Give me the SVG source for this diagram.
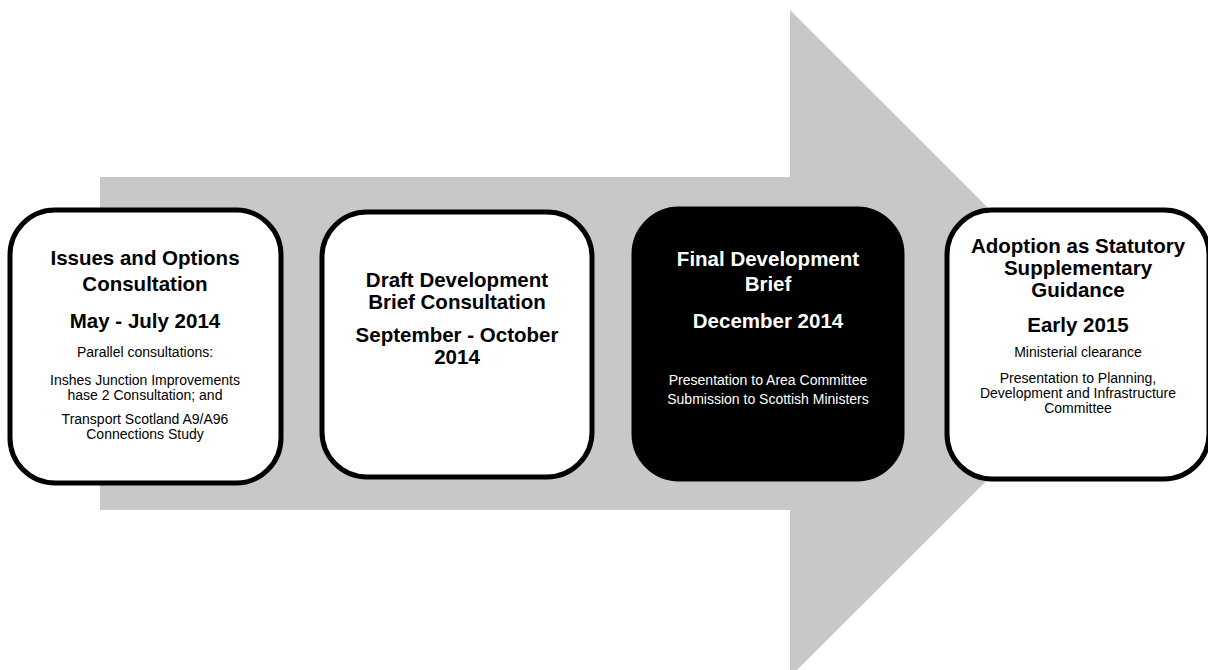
<svg xmlns="http://www.w3.org/2000/svg" width="1208" height="670" viewBox="0 0 1208 670">
<style>
.box{fill:#ffffff;stroke:#000000;stroke-width:5}
.dark{fill:#000000;stroke:#000000;stroke-width:5}
.t{font-family:"Liberation Sans",Arial,sans-serif;font-weight:bold;font-size:20.5px;text-anchor:middle;fill:#000}
.s{font-family:"Liberation Sans",Arial,sans-serif;font-size:14px;text-anchor:middle;fill:#000}
.w{fill:#ffffff}
</style>
<rect width="1208" height="670" fill="#ffffff"/>
<g id="connectors">
<polygon points="100,177 790,177 790,10 1124,343.5 790,677 790,510 100,510" fill="#c8c8c8"/>
</g>
<g id="node1">
<rect class="box" x="10" y="210" width="271" height="273" rx="45"/>
<text class="t" x="145" y="265">Issues and Options</text>
<text class="t" x="145" y="291">Consultation</text>
<text class="t" x="145" y="328">May - July 2014</text>
<text class="s" x="145" y="357">Parallel consultations:</text>
<text class="s" x="145" y="385">Inshes Junction Improvements</text>
<text class="s" x="145" y="400">hase 2 Consultation; and</text>
<text class="s" x="145" y="424">Transport Scotland A9/A96</text>
<text class="s" x="145" y="439">Connections Study</text>
</g>
<g id="node2">
<rect class="box" x="322" y="212" width="270" height="265" rx="45"/>
<text class="t" x="457" y="287">Draft Development</text>
<text class="t" x="457" y="309">Brief Consultation</text>
<text class="t" x="457" y="342">September - October</text>
<text class="t" x="457" y="364">2014</text>
</g>
<g id="node3">
<rect class="dark" x="634" y="209" width="268" height="270" rx="45"/>
<text class="t w" x="768" y="266">Final Development</text>
<text class="t w" x="768" y="291">Brief</text>
<text class="t w" x="768" y="328">December 2014</text>
<text class="s w" x="768" y="385">Presentation to Area Committee</text>
<text class="s w" x="768" y="404">Submission to Scottish Ministers</text>
</g>
<g id="node4">
<rect class="box" x="947" y="210" width="262" height="269" rx="45"/>
<text class="t" x="1078" y="253">Adoption as Statutory</text>
<text class="t" x="1078" y="275">Supplementary</text>
<text class="t" x="1078" y="297">Guidance</text>
<text class="t" x="1078" y="332">Early 2015</text>
<text class="s" x="1078" y="357">Ministerial clearance</text>
<text class="s" x="1078" y="383">Presentation to Planning,</text>
<text class="s" x="1078" y="398">Development and Infrastructure</text>
<text class="s" x="1078" y="413">Committee</text>
</g>
</svg>
